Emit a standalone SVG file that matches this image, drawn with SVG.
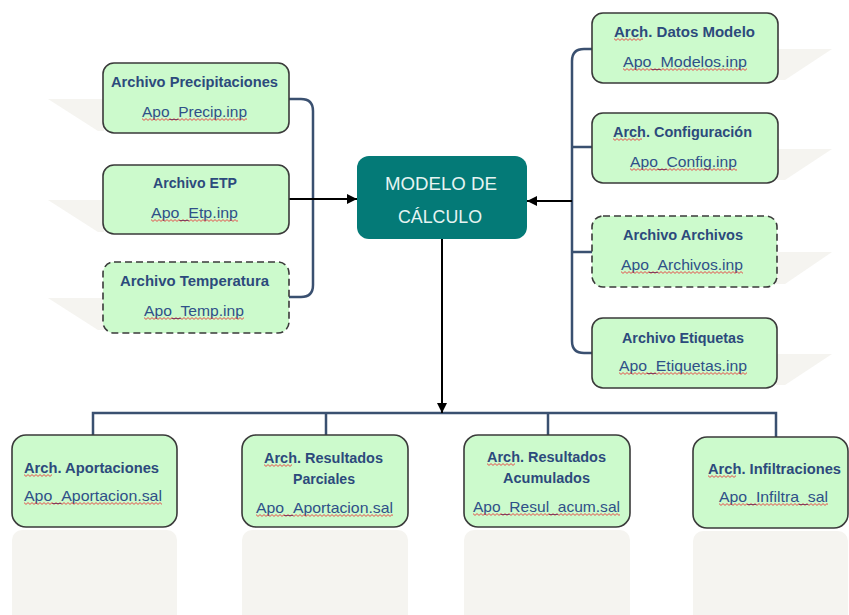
<svg xmlns="http://www.w3.org/2000/svg" xmlns:xlink="http://www.w3.org/1999/xlink" width="849" height="615" viewBox="0 0 849 615">
<style>
.box{fill:#ccfacc;stroke:#3a3a3a;stroke-width:1.6}
.dash{stroke-dasharray:7 4}
.shadow{fill:#f5f4f0}
.t{font-family:"Liberation Sans",Arial,sans-serif;font-weight:bold;font-size:14px;fill:#2c4a7c}
.s{font-family:"Liberation Sans",Arial,sans-serif;font-size:14.5px;fill:#2f5088}
.m{font-family:"Liberation Sans",Arial,sans-serif;font-size:19px;fill:#e6f4f2}
.sq{fill:url(#wave)}
.nav{fill:none;stroke:#3a5070;stroke-width:2.5}
.blk{fill:none;stroke:#000;stroke-width:2}
</style>
<defs>
<pattern id="wave" width="4" height="3" patternUnits="userSpaceOnUse">
<path d="M0,0.6 L2,2.4 L4,0.6" fill="none" stroke="#e8262b" stroke-width="0.8"/>
</pattern>
<marker id="ah" viewBox="0 0 10 10" refX="10" refY="5" markerWidth="5" markerHeight="5" orient="auto" markerUnits="strokeWidth">
<path d="M0,0 L10,5 L0,10 Z" fill="#000"/>
</marker>
</defs>
<g id="shadows">
<polygon class="shadow" points="48,99 104,99 104,131 98,131"/>
<polygon class="shadow" points="48,200 104,200 104,232 98,232"/>
<polygon class="shadow" points="48,298 104,298 104,330 98,330"/>
<polygon class="shadow" points="777,49 832,49 785,80 777,80"/>
<polygon class="shadow" points="777,149 832,149 785,180 777,180"/>
<polygon class="shadow" points="776,252 832,252 785,284 776,284"/>
<polygon class="shadow" points="776,354 832,354 785,385 776,385"/>
<rect class="shadow" x="12" y="530" width="165" height="95" rx="10"/>
<rect class="shadow" x="242" y="530" width="166" height="95" rx="10"/>
<rect class="shadow" x="464" y="530" width="166" height="95" rx="10"/>
<rect class="shadow" x="693" y="531" width="155" height="95" rx="10"/>
</g>
<g id="connectors">
<path class="nav" d="M289,99 H301 Q313,99 313,111 V285 Q313,297 301,297 H289"/>
<path class="nav" d="M592,49 H584 Q572,49 572,61 V341 Q572,353 584,353 H592"/>
<path class="nav" d="M572,147 H592 M572,252 H592"/>
<path class="nav" d="M93,435 V413 H776 V437 M326,413 V435 M548,413 V435"/>
<path class="blk" d="M289,199 H357" marker-end="url(#ah)"/>
<path class="blk" d="M572,201 H527" marker-end="url(#ah)"/>
<path class="blk" d="M442,239 V413" marker-end="url(#ah)"/>
</g>
<g id="modelo">
<rect x="357" y="156" width="170" height="83" rx="12" fill="#047a77"/>
<text class="m" x="385" y="190" textLength="112" lengthAdjust="spacingAndGlyphs">MODELO DE</text>
<text class="m" x="398" y="223" textLength="84" lengthAdjust="spacingAndGlyphs">CÁLCULO</text>
</g>
<g id="precip">
<rect class="box" x="103" y="63" width="186" height="70" rx="11"/>
<text class="t" x="111" y="87" textLength="167" lengthAdjust="spacingAndGlyphs">Archivo Precipitaciones</text>
<text class="s" x="142" y="117" textLength="105" lengthAdjust="spacingAndGlyphs">Apo_Precip.inp</text>
<rect class="sq" width="105" height="3" transform="translate(142,118)"/>
</g>
<g id="etp">
<rect class="box" x="103" y="165" width="186" height="69" rx="11"/>
<text class="t" x="153" y="188" textLength="84" lengthAdjust="spacingAndGlyphs">Archivo ETP</text>
<text class="s" x="151" y="218" textLength="87" lengthAdjust="spacingAndGlyphs">Apo_Etp.inp</text>
<rect class="sq" width="87" height="3" transform="translate(151,219)"/>
</g>
<g id="temp">
<rect class="box dash" x="103" y="262" width="186" height="71" rx="11"/>
<text class="t" x="120" y="286" textLength="149" lengthAdjust="spacingAndGlyphs">Archivo Temperatura</text>
<text class="s" x="144" y="316" textLength="100" lengthAdjust="spacingAndGlyphs">Apo_Temp.inp</text>
<rect class="sq" width="100" height="3" transform="translate(144,317)"/>
</g>
<g id="datos">
<rect class="box" x="592" y="13" width="186" height="70" rx="11"/>
<text class="t" x="614" y="37" textLength="141" lengthAdjust="spacingAndGlyphs">Arch. Datos Modelo</text>
<rect class="sq" width="29" height="3" transform="translate(614,38)"/>
<text class="s" x="623" y="67" textLength="124" lengthAdjust="spacingAndGlyphs">Apo_Modelos.inp</text>
<rect class="sq" width="124" height="3" transform="translate(623,68)"/>
</g>
<g id="config">
<rect class="box" x="592" y="113" width="186" height="70" rx="11"/>
<text class="t" x="613" y="137" textLength="139" lengthAdjust="spacingAndGlyphs">Arch. Configuración</text>
<rect class="sq" width="29" height="3" transform="translate(613,138)"/>
<text class="s" x="630" y="167" textLength="107" lengthAdjust="spacingAndGlyphs">Apo_Config.inp</text>
<rect class="sq" width="107" height="3" transform="translate(630,168)"/>
</g>
<g id="archivos">
<rect class="box dash" x="592" y="216" width="185" height="71" rx="11"/>
<text class="t" x="623" y="240" textLength="120" lengthAdjust="spacingAndGlyphs">Archivo Archivos</text>
<text class="s" x="621" y="270" textLength="122" lengthAdjust="spacingAndGlyphs">Apo_Archivos.inp</text>
<rect class="sq" width="122" height="3" transform="translate(621,271)"/>
</g>
<g id="etiquetas">
<rect class="box" x="592" y="318" width="185" height="70" rx="11"/>
<text class="t" x="622" y="343" textLength="122" lengthAdjust="spacingAndGlyphs">Archivo Etiquetas</text>
<text class="s" x="619" y="371" textLength="128" lengthAdjust="spacingAndGlyphs">Apo_Etiquetas.inp</text>
<rect class="sq" width="128" height="3" transform="translate(619,372)"/>
</g>
<g id="aportaciones">
<rect class="box" x="12" y="435" width="165" height="92" rx="14"/>
<text class="t" x="24" y="473" textLength="135" lengthAdjust="spacingAndGlyphs">Arch. Aportaciones</text>
<rect class="sq" width="28" height="3" transform="translate(24,474)"/>
<text class="s" x="24" y="501" textLength="138" lengthAdjust="spacingAndGlyphs">Apo_Aportacion.sal</text>
<rect class="sq" width="138" height="3" transform="translate(24,502)"/>
</g>
<g id="parciales">
<rect class="box" x="242" y="435" width="166" height="92" rx="14"/>
<text class="t" x="264" y="463" textLength="119" lengthAdjust="spacingAndGlyphs">Arch. Resultados</text>
<rect class="sq" width="28" height="3" transform="translate(264,464)"/>
<text class="t" x="293" y="484" textLength="62" lengthAdjust="spacingAndGlyphs">Parciales</text>
<text class="s" x="256" y="513" textLength="137" lengthAdjust="spacingAndGlyphs">Apo_Aportacion.sal</text>
<rect class="sq" width="137" height="3" transform="translate(256,514)"/>
</g>
<g id="acumulados">
<rect class="box" x="464" y="435" width="166" height="92" rx="14"/>
<text class="t" x="487" y="462" textLength="119" lengthAdjust="spacingAndGlyphs">Arch. Resultados</text>
<rect class="sq" width="28" height="3" transform="translate(487,463)"/>
<text class="t" x="503" y="483" textLength="87" lengthAdjust="spacingAndGlyphs">Acumulados</text>
<text class="s" x="473" y="512" textLength="147" lengthAdjust="spacingAndGlyphs">Apo_Resul_acum.sal</text>
<rect class="sq" width="147" height="3" transform="translate(473,513)"/>
</g>
<g id="infiltraciones">
<rect class="box" x="693" y="437" width="155" height="91" rx="14"/>
<text class="t" x="708" y="474" textLength="133" lengthAdjust="spacingAndGlyphs">Arch. Infiltraciones</text>
<rect class="sq" width="28" height="3" transform="translate(708,475)"/>
<text class="s" x="719" y="502" textLength="109" lengthAdjust="spacingAndGlyphs">Apo_Infiltra_sal</text>
<rect class="sq" width="109" height="3" transform="translate(719,503)"/>
</g>
</svg>
